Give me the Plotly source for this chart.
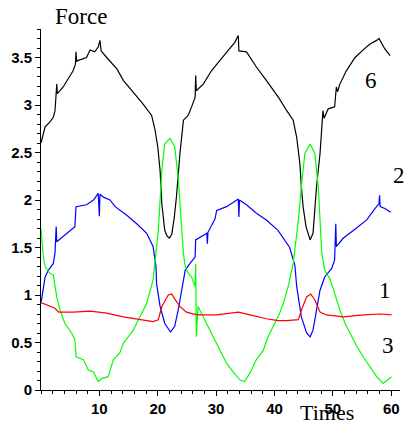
import plotly.graph_objects as go

# Force traces over time, four measurement channels

t6 = [0, 0.7, 1.5, 2.1, 2.4, 2.6, 2.7, 2.8, 3.8, 5.0, 5.5, 5.9, 6.0, 6.1, 6.4, 7.8, 8.4, 9.2, 9.8, 10.1,
      10.3, 11.25, 13.0, 14.1, 15.8, 17.5, 18.95, 19.5, 20.0, 20.4, 20.7, 21.2, 21.6, 22.0, 22.4, 22.8,
      23.2, 23.8, 24.4, 25.2, 25.8, 26.4, 26.5, 26.6, 27.8, 29.2, 30.65, 32.1, 33.2, 33.8, 33.9, 35.2,
      36.9, 38.6, 40.8, 42.1, 43.2, 43.8, 44.35, 44.6, 44.9, 45.4, 46.1, 46.6, 47.2, 47.8, 48.1, 48.3,
      48.5, 49.2, 50.3, 50.6, 50.8, 51.2, 52.3, 53.8, 55.2, 56.3, 57.5, 57.9, 58.9, 59.8]
f6 = [2.6, 2.77, 2.82, 2.87, 2.94, 3.08, 3.22, 3.12, 3.19, 3.31, 3.36, 3.43, 3.56, 3.46, 3.47, 3.50, 3.58,
      3.56, 3.61, 3.68, 3.57, 3.50, 3.38, 3.26, 3.14, 3.01, 2.89, 2.75, 2.56, 2.31, 1.96, 1.68, 1.62, 1.60,
      1.64, 1.80, 2.03, 2.49, 2.84, 2.89, 2.98, 3.08, 3.31, 3.15, 3.22, 3.36, 3.47, 3.58, 3.66, 3.73, 3.57,
      3.56, 3.40, 3.26, 3.07, 2.94, 2.84, 2.66, 2.38, 2.14, 1.93, 1.72, 1.58, 1.65, 2.14, 2.49, 2.73, 2.94,
      2.86, 2.96, 2.98, 3.19, 3.14, 3.22, 3.36, 3.50, 3.58, 3.64, 3.68, 3.70, 3.59, 3.52]

t2 = [0.05, 0.4, 0.7, 1.25, 2.1, 2.4, 2.6, 2.7, 4.4, 5.8, 6.0, 7.8, 9.0, 9.8, 10.0, 10.1, 10.7, 11.8,
      12.7, 14.7, 16.4, 18.1, 19.2, 19.7, 19.8, 20.4, 21.2, 22.2, 22.9, 23.5, 24.1, 24.7, 25.5, 26.4,
      26.5, 28.4, 28.5, 28.6, 29.8, 30.1, 31.8, 33.2, 33.8, 33.9, 34.0, 35.2, 36.9, 38.6, 40.6, 42.6,
      43.5, 43.8, 44.6, 45.5, 46.1, 46.6, 47.2, 47.8, 48.6, 49.8, 50.3, 50.5, 50.6, 51.8, 53.5, 55.8,
      57.2, 57.9, 58.0, 58.1, 58.9, 59.9]
f2 = [0.93, 1.10, 1.19, 1.26, 1.33, 1.44, 1.72, 1.56, 1.65, 1.72, 1.93, 1.95, 2.00, 2.07, 1.83, 2.06,
      2.03, 2.00, 1.93, 1.84, 1.75, 1.65, 1.51, 1.30, 1.12, 0.88, 0.70, 0.61, 0.67, 0.84, 1.05, 1.26,
      1.33, 1.40, 1.58, 1.65, 1.54, 1.66, 1.80, 1.89, 1.93, 1.98, 2.01, 1.82, 2.00, 1.95, 1.86, 1.79,
      1.68, 1.50, 1.31, 1.09, 0.77, 0.60, 0.56, 0.63, 0.84, 1.05, 1.19, 1.28, 1.37, 1.75, 1.51, 1.60,
      1.68, 1.79, 1.91, 1.96, 2.05, 1.93, 1.91, 1.87]

t3 = [0, 0.4, 0.7, 1.5, 2.1, 2.7, 3.25, 4.1, 5.25, 5.8, 6.0, 7.25, 8.1, 9.0, 9.8, 10.4, 11.5, 12.4,
      13.5, 14.1, 15.8, 17.0, 18.1, 19.2, 19.8, 20.1, 20.7, 21.2, 22.1, 22.9, 23.5, 23.8, 24.2, 24.4,
      24.7, 25.2, 25.8, 26.4, 26.5, 26.6, 26.9, 27.8, 28.9, 30.1, 30.9, 31.8, 32.9, 34.1, 34.9, 35.8,
      36.9, 38.1, 38.9, 40.1, 40.9, 41.5, 42.35, 43.2, 43.8, 44.1, 44.6, 45.2, 46.1, 46.9, 47.5, 47.8,
      48.1, 48.6, 49.5, 50.3, 50.6, 51.2, 52.1, 52.9, 54.1, 55.2, 56.3, 57.5, 58.6, 60.05]
f3 = [1.70, 1.40, 1.30, 1.23, 1.21, 0.98, 0.84, 0.70, 0.60, 0.53, 0.35, 0.32, 0.21, 0.19, 0.09, 0.12,
      0.14, 0.32, 0.39, 0.49, 0.63, 0.77, 0.91, 1.16, 1.47, 1.68, 2.31, 2.59, 2.65, 2.56, 2.24, 1.96,
      1.65, 1.44, 1.30, 1.23, 1.19, 1.09, 1.33, 0.56, 0.88, 0.77, 0.63, 0.49, 0.39, 0.28, 0.19, 0.105,
      0.09, 0.18, 0.32, 0.42, 0.56, 0.70, 0.81, 0.91, 1.09, 1.33, 1.61, 1.79, 2.14, 2.49, 2.59, 2.49,
      2.14, 1.79, 1.44, 1.26, 1.17, 1.02, 0.95, 0.84, 0.70, 0.60, 0.46, 0.35, 0.25, 0.14, 0.07, 0.14]

t1 = [0, 1.5, 2.4, 3.0, 5.5, 8.4, 11.25, 14.1, 17.0, 19.2, 20.1, 20.7, 21.8, 22.4, 22.9, 23.8, 24.9,
      26.7, 30.1, 33.8, 35.8, 38.6, 40.6, 42.1, 44.1, 44.6, 45.5, 46.2, 46.9, 47.8, 48.9, 51.8, 55.2,
      58.05, 60.05]
f1 = [0.92, 0.88, 0.86, 0.82, 0.82, 0.83, 0.81, 0.77, 0.74, 0.72, 0.74, 0.88, 1.00, 1.01, 0.96, 0.88,
      0.82, 0.79, 0.79, 0.82, 0.79, 0.75, 0.73, 0.73, 0.74, 0.84, 0.98, 1.01, 0.95, 0.82, 0.79, 0.77,
      0.79, 0.80, 0.79]

series = [
    (t6, f6, "#000000"),
    (t2, f2, "#0000ff"),
    (t3, f3, "#00ff00"),
    (t1, f1, "#ff0000"),
]

X_MAX = 61.5
Y_MAX = 3.8

curve_labels = [("6", 56.6, 3.26), ("2", 61.3, 2.26), ("1", 58.9, 1.05), ("3", 59.4, 0.47)]

fig = go.Figure()
for tx, fy, col in series:
    fig.add_trace(go.Scatter(x=tx, y=fy, mode="lines",
                             line=dict(color=col, width=1.2), showlegend=False))

serif = "Liberation Serif, Times New Roman, serif"


def free_text(txt, ax_x, ax_y, size):
    fig.add_annotation(x=ax_x / X_MAX, y=ax_y / Y_MAX, xref="paper", yref="paper", text=txt,
                       xanchor="center", yanchor="middle", showarrow=False,
                       font=dict(family=serif, size=size, color="#000"))


for txt, ax_x, ax_y in curve_labels:
    free_text(txt, ax_x, ax_y, 23)

# axis titles placed as free text: "Force" above the y axis, "Times" under the x axis
free_text("Force", 6.85, 3.93, 23)
free_text("Times", 49.0, -0.24, 22)

tickfont = dict(family="Liberation Sans, Arial, sans-serif", size=15, color="#000", weight="bold")

fig.update_layout(
    width=404, height=424,
    margin=dict(l=41, r=4, t=29, b=34),
    paper_bgcolor="white", plot_bgcolor="white",
    xaxis=dict(range=[0, X_MAX], showgrid=False, zeroline=False, showline=True,
               linecolor="#000", linewidth=1, ticks="outside", ticklen=5, tickcolor="#000",
               tickvals=[10, 20, 30, 40, 50, 60], tickfont=tickfont,
               minor=dict(dtick=2, ticks="outside", ticklen=3, tickcolor="#000")),
    yaxis=dict(range=[0, Y_MAX], showgrid=False, zeroline=False, showline=True,
               linecolor="#000", linewidth=1, ticks="outside", ticklen=5, tickcolor="#000",
               tickvals=[0, 0.5, 1, 1.5, 2, 2.5, 3, 3.5],
               ticktext=["0", "0.5", "1", "1.5", "2", "2.5", "3", "3.5"],
               tickfont=tickfont,
               minor=dict(dtick=0.1, ticks="outside", ticklen=3, tickcolor="#000")),
)

fig.write_html("out.html", config={"displayModeBar": False})
